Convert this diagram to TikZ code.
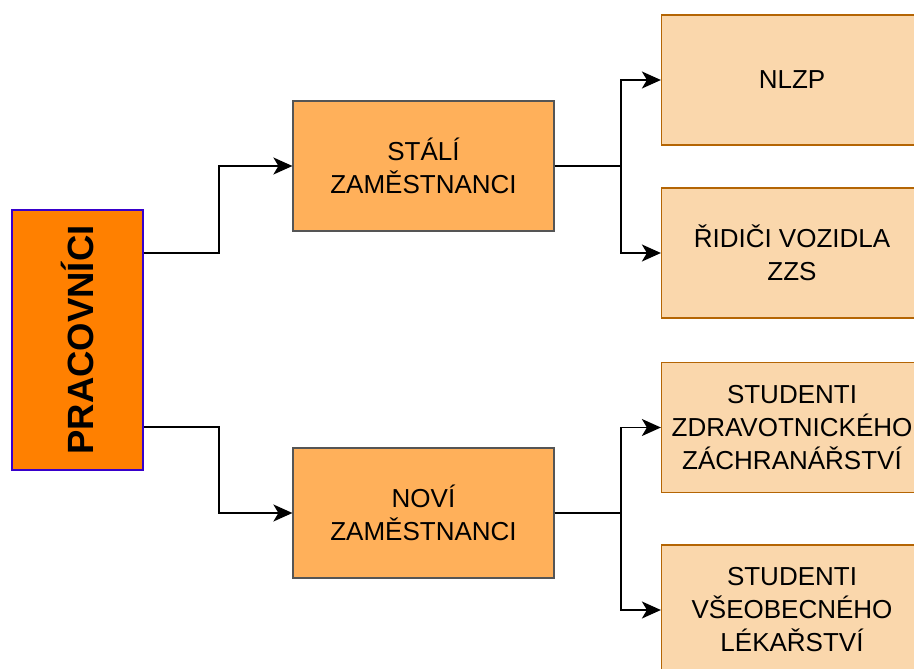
\documentclass[tikz,border=0pt]{standalone}
\usepackage{fontspec}
\setmainfont{Liberation Sans}
\usepackage{xcolor}
\usetikzlibrary{arrows.meta}

\definecolor{mainfill}{HTML}{FF8000}
\definecolor{mainline}{HTML}{3700CC}
\definecolor{midfill}{HTML}{FFB05A}
\definecolor{midline}{HTML}{555555}
\definecolor{leaffill}{HTML}{FAD7AC}
\definecolor{leafline}{HTML}{B46504}

\tikzset{
  mainbox/.style={draw=mainline, fill=mainfill, line width=1.2pt, inner sep=0pt,
    minimum width=131pt, minimum height=260pt},
  midbox/.style={draw=midline, fill=midfill, line width=1.2pt, inner sep=0pt,
    minimum width=261pt, minimum height=130pt, align=center,
    font=\fontsize{26pt}{33pt}\selectfont},
  leafbox/.style={draw=leafline, fill=leaffill, line width=1.2pt, inner sep=0pt,
    minimum width=261pt, minimum height=130pt, align=center,
    font=\fontsize{26pt}{33pt}\selectfont},
  link/.style={line width=1.8pt, -{Stealth[length=19pt,width=17pt,inset=5pt]}}
}

\begin{document}
\begin{tikzpicture}[x=1pt, y=-1pt]
  \useasboundingbox (0,0) rectangle (914,669);

  % boxes
  \node[mainbox] (prac) at (77.5,340)
    {\rotatebox{90}{\fontsize{36.5pt}{40pt}\selectfont\bfseries PRACOVNÍCI}};
  \node[midbox] (stali) at (423.5,166) {STÁLÍ\\ZAMĚSTNANCI};
  \node[midbox] (novi) at (423.5,513) {NOVÍ\\ZAMĚSTNANCI};
  \node[leafbox] (nlzp) at (792,80) {NLZP};
  \node[leafbox] (ridici) at (792,253) {ŘIDIČI VOZIDLA\\ZZS};
  \node[leafbox] (zachr) at (792,427.5) {STUDENTI\\ZDRAVOTNICKÉHO\\ZÁCHRANÁŘSTVÍ};
  \node[leafbox] (lekar) at (792,610) {STUDENTI\\VŠEOBECNÉHO\\LÉKAŘSTVÍ};

  % connectors
  \draw[link] ([yshift=87pt]prac.east) -- ++(75,0) |- (stali.west);
  \draw[link] ([yshift=-87pt]prac.east) -- ++(75,0) |- (novi.west);
  \draw[link] (stali.east) -- ++(66,0) |- (nlzp.west);
  \draw[link] (stali.east) -- ++(66,0) |- (ridici.west);
  \draw[link] (novi.east) -- ++(66,0) |- (zachr.west);
  \draw[link] (novi.east) -- ++(66,0) |- (lekar.west);
\end{tikzpicture}
\end{document}
